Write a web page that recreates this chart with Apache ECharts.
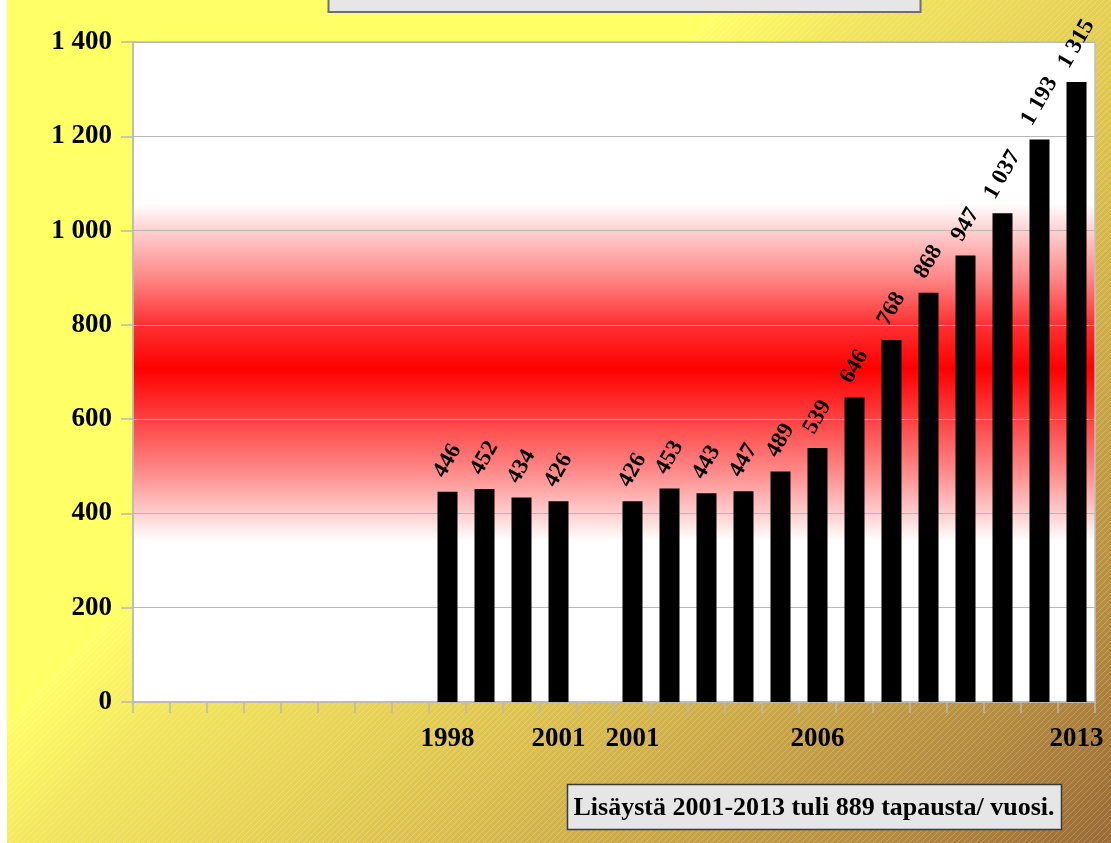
<!DOCTYPE html>
<html>
<head>
<meta charset="utf-8">
<style>
  html, body { margin: 0; padding: 0; width: 1111px; height: 843px; overflow: hidden; background: #ffff66; }
  #chart { width: 1111px; height: 843px; }
</style>
<script src="https://cdn.jsdelivr.net/npm/echarts@6/dist/echarts.min.js"></script>
</head>
<body>
<div id="chart"></div>
<script>
// Category slots along the x axis (the empty slots leave room on the left and a gap between series).
const categories = ['', '', '', '', '', '', '', '', '1998', '1999', '2000', '2001', '',
  '2001', '2002', '2003', '2004', '2005', '2006', '2007', '2008', '2009', '2010', '2011', '2012', '2013'];
// Only these years are written under the axis.
const shownYears = ['1998', '2001', '2006', '2013'];
// Cases per year.
const cases = [null, null, null, null, null, null, null, null, 446, 452, 434, 426, null,
  426, 453, 443, 447, 489, 539, 646, 768, 868, 947, 1037, 1193, 1315];
// Value axis ticks.
const yTicks = [0, 200, 400, 600, 800, 1000, 1200, 1400];
const noteText = 'Lisäystä 2001-2013 tuli 889 tapausta/ vuosi.';

const SERIF = '"Liberation Serif", "Times New Roman", serif';
const LABEL_SIZE = 23;
const LABEL_ANGLE = 60;

// Finnish style thousands grouping: "1 315"
function fmt(v) {
  if (v >= 1000) return Math.floor(v / 1000) + ' ' + String(v % 1000).padStart(3, '0');
  return String(v);
}

// Rotated value labels sit centred over their bar with a constant gap below them,
// so the distance depends on how long the rotated text is.
const measureCtx = document.createElement('canvas').getContext('2d');
measureCtx.font = 'bold ' + LABEL_SIZE + 'px ' + SERIF;
const rad = LABEL_ANGLE * Math.PI / 180;
const barData = cases.map(function (v) {
  if (v == null) return null;
  const w = measureCtx.measureText(fmt(v)).width;
  const halfHeight = (w * Math.sin(rad) + 0.68 * LABEL_SIZE * Math.cos(rad)) / 2;
  return { value: v, label: { distance: 12 + halfHeight } };
});

// Thin light diagonal hatching used on the darker part of the backdrop.
function hatchTile() {
  const s = 6;
  const c = document.createElement('canvas');
  c.width = s; c.height = s;
  const g = c.getContext('2d');
  g.strokeStyle = 'rgba(255,255,255,0.28)';
  g.lineWidth = 0.8;
  g.beginPath();
  g.moveTo(-1, 1); g.lineTo(1, -1);
  g.moveTo(0, s); g.lineTo(s, 0);
  g.moveTo(s - 1, s + 1); g.lineTo(s + 1, s - 1);
  g.stroke();
  return c;
}

const chart = echarts.init(document.getElementById('chart'), null, { renderer: 'canvas' });

const option = {
  animation: false,
  backgroundColor: new echarts.graphic.LinearGradient(0, 0, 977, 977, [
    { offset: 0, color: '#ffff66' },
    { offset: 0.372, color: '#ffff66' },
    { offset: 0.45, color: '#f2e55c' },
    { offset: 0.6, color: '#e2ca52' },
    { offset: 0.75, color: '#cca948' },
    { offset: 0.88, color: '#b68c40' },
    { offset: 1, color: '#9a6a34' }
  ], true),
  graphic: [
    {
      type: 'polygon', z: -10, silent: true,
      shape: { points: [[727, 0], [1111, 0], [1111, 843], [0, 843], [0, 727]] },
      style: { fill: { image: hatchTile(), repeat: 'repeat' } }
    },
    {
      type: 'rect', z: -5, silent: true,
      shape: { x: 0, y: 0, width: 7, height: 843 },
      style: { fill: '#ffffff' }
    },
    {
      type: 'rect', z: 100, silent: true,
      shape: { x: 328.5, y: -10, width: 592, height: 22 },
      style: { fill: '#e6e6e6', stroke: '#6e6e6e', lineWidth: 2 }
    },
    {
      type: 'group', z: 100, silent: true,
      children: [
        {
          type: 'rect',
          shape: { x: 567.5, y: 784.5, width: 494, height: 45 },
          style: { fill: '#e6e6e6', stroke: '#3a3a3a', lineWidth: 1.5 }
        },
        {
          type: 'text',
          x: 814, y: 808,
          style: {
            text: noteText, fill: '#000',
            font: 'bold 26px ' + SERIF,
            align: 'center', verticalAlign: 'middle'
          }
        }
      ]
    }
  ],
  grid: {
    left: 133, right: 16, top: 42, bottom: 141,
    show: true,
    borderColor: '#c0c0c0', borderWidth: 1.5,
    backgroundColor: new echarts.graphic.LinearGradient(0, 0, 0, 1, [
      { offset: 0, color: '#ffffff' },
      { offset: 0.245, color: '#ffffff' },
      { offset: 0.285, color: '#ffd2d2' },
      { offset: 0.36, color: '#ff8484' },
      { offset: 0.427, color: '#ff3232' },
      { offset: 0.495, color: '#ff0000' },
      { offset: 0.57, color: '#ff4040' },
      { offset: 0.647, color: '#ff8686' },
      { offset: 0.712, color: '#ffcccc' },
      { offset: 0.755, color: '#ffffff' },
      { offset: 1, color: '#ffffff' }
    ])
  },
  xAxis: {
    type: 'category',
    data: categories,
    boundaryGap: true,
    axisLine: { show: true, lineStyle: { color: '#b8b8b8', width: 1.5 } },
    axisTick: { show: true, interval: 0, length: 11, lineStyle: { color: '#b8b8b8', width: 1.5 } },
    axisLabel: {
      interval: 0,
      margin: 24,
      color: '#000',
      fontFamily: SERIF,
      fontWeight: 'bold',
      fontSize: 27,
      formatter: function (v) { return shownYears.indexOf(v) >= 0 ? v : ''; }
    },
    splitLine: { show: false }
  },
  yAxis: {
    type: 'value',
    min: yTicks[0],
    max: yTicks[yTicks.length - 1],
    interval: yTicks[1] - yTicks[0],
    axisLine: { show: true, lineStyle: { color: '#b8b8b8', width: 1.5 } },
    axisTick: { show: true, length: 12, lineStyle: { color: '#b8b8b8', width: 1.5 } },
    axisLabel: {
      margin: 21,
      color: '#000',
      fontFamily: SERIF,
      fontWeight: 'bold',
      fontSize: 27,
      formatter: function (v) { return fmt(v); }
    },
    splitLine: { show: true, lineStyle: { color: '#b8b8b8', width: 1 } }
  },
  series: [{
    type: 'bar',
    data: barData,
    barWidth: 20,
    itemStyle: { color: '#000000' },
    label: {
      show: true,
      position: 'top',
      rotate: LABEL_ANGLE,
      align: 'center',
      verticalAlign: 'middle',
      color: '#000',
      fontFamily: SERIF,
      fontWeight: 'bold',
      fontSize: LABEL_SIZE,
      formatter: function (p) { return fmt(p.value); }
    }
  }]
};

chart.setOption(option);
</script>
</body>
</html>
